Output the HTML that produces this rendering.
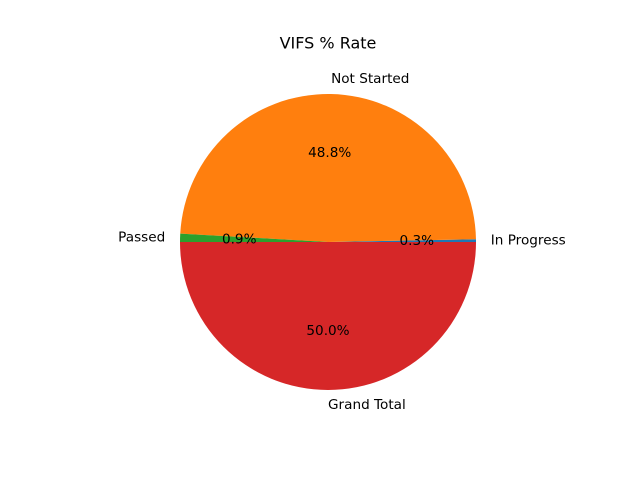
<!DOCTYPE html>
<html><head><meta charset="utf-8"><style>
body{margin:0;background:#fff;}
svg text{font-family:"DejaVu Sans","Liberation Sans",sans-serif;fill:#000;}
</style></head><body>
<svg id="chart" width="640" height="480" viewBox="0 0 640 480">
<rect width="640" height="480" fill="#fff"/>
<text x="328" y="44" font-size="16" text-anchor="middle" dominant-baseline="middle">VIFS % Rate</text>
<g id="slices"></g>
<g id="labels"></g>
</svg>
<script>
const categories = ["In Progress", "Not Started", "Passed", "Grand Total"];
const values = [0.3, 48.8, 0.9, 50.0];
const colors = ["#1f77b4", "#ff7f0e", "#2ca02c", "#d62728"];
const cx = 328, cy = 242, r = 148;
const NS = "http://www.w3.org/2000/svg";
const total = values.reduce((a, b) => a + b, 0);
const gS = document.getElementById("slices"), gL = document.getElementById("labels");
function pt(deg, rad) { const a = deg * Math.PI / 180; return [cx + rad * Math.cos(a), cy - rad * Math.sin(a)]; }
let start = 0;
values.forEach((v, i) => {
  const sweep = v / total * 360, end = start + sweep;
  const [x1, y1] = pt(start, r), [x2, y2] = pt(end, r);
  const p = document.createElementNS(NS, "path");
  p.setAttribute("d", `M${cx},${cy} L${x1},${y1} A${r},${r} 0 ${sweep > 180 ? 1 : 0} 0 ${x2},${y2} Z`);
  p.setAttribute("fill", colors[i]);
  
  
  gS.appendChild(p);
  const mid = (start + end) / 2;
  const [lx, ly] = pt(mid, r * 1.1);
  const t = document.createElementNS(NS, "text");
  t.setAttribute("x", lx); t.setAttribute("y", ly);
  t.setAttribute("font-size", "13.6");
  t.setAttribute("dominant-baseline", "middle");
  t.setAttribute("text-anchor", lx >= cx - 0.5 ? "start" : "end");
  t.textContent = categories[i];
  
  
  gL.appendChild(t);
  const [px, py] = pt(mid, r * 0.6);
  const q = document.createElementNS(NS, "text");
  q.setAttribute("x", px); q.setAttribute("y", py);
  q.setAttribute("font-size", "13.6");
  q.setAttribute("dominant-baseline", "middle");
  q.setAttribute("text-anchor", "middle");
  q.textContent = (v / total * 100).toFixed(1) + "%";
  
  
  gL.appendChild(q);
  start = end;
});
</script>
</body></html>
